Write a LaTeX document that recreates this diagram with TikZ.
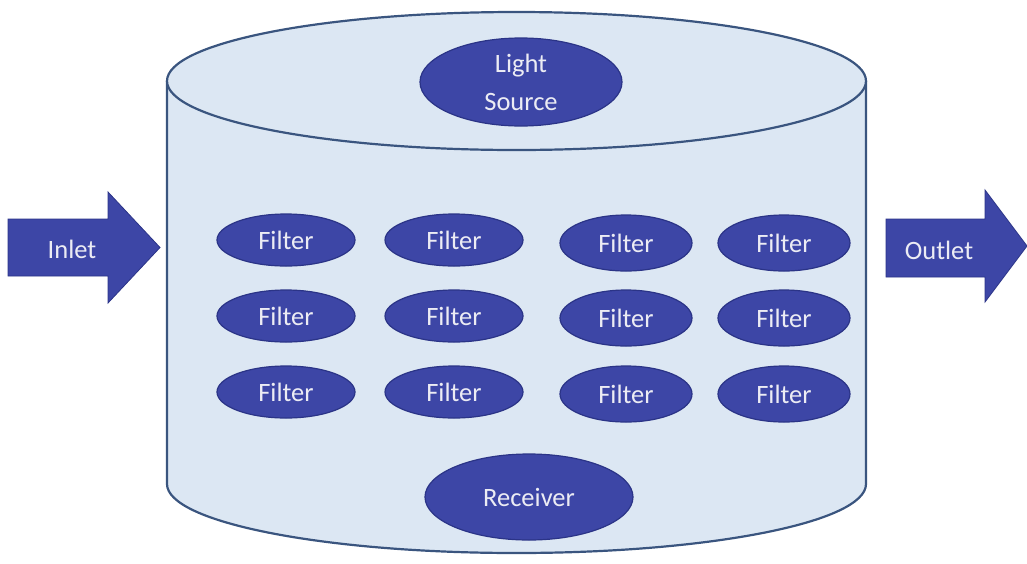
\documentclass[tikz,border=0pt]{standalone}
\usepackage{fontspec}
\setmainfont{Carlito}
\usetikzlibrary{shapes.geometric}
\definecolor{blobfill}{HTML}{3D46A6}
\definecolor{blobline}{HTML}{2B3487}
\definecolor{blobtext}{HTML}{ECECF4}
\definecolor{cylfill}{HTML}{DCE7F3}
\definecolor{cylline}{HTML}{3A557F}
\tikzset{
  blob/.style={ellipse, fill=blobfill, draw=blobline, line width=1.2pt, inner sep=0pt,
    text=blobtext, font=\fontsize{26.5}{38}\selectfont, align=center},
  filterblob/.style={blob, minimum width=138pt, minimum height=52pt},
  flowarrow/.style={fill=blobfill, draw=blobline, line width=0.8pt},
  flowtext/.style={text=blobtext, font=\fontsize{26.5}{32}\selectfont, inner sep=0pt},
  cylbody/.style={fill=cylfill, draw=cylline, line width=2.2pt}
}
\begin{document}
\begin{tikzpicture}[x=1pt,y=-1pt]
\useasboundingbox (0,0) rectangle (1027,563);
% cylinder
\fill[cylfill] (167,81) rectangle (866,484);
\fill[cylfill] (516.5,484) ellipse[x radius=349.5, y radius=69];
\draw[cylline, line width=2.2pt] (167,81) -- (167,484)
  arc[start angle=180, end angle=0, x radius=349.5, y radius=69] -- (866,81);
\draw[cylbody] (516.5,81) ellipse[x radius=349.5, y radius=69];
% inlet arrow
\draw[flowarrow] (8,219) -- (108,219) -- (108,192) -- (160,247.5) -- (108,303) -- (108,276) -- (8,276) -- cycle;
\node[flowtext] (inlet) at (72,249) {Inlet};
% outlet arrow
\draw[flowarrow] (886,219) -- (985,219) -- (985,190) -- (1027,246) -- (985,302) -- (985,277) -- (886,277) -- cycle;
\node[flowtext] (outlet) at (939,250) {Outlet};
% light source and receiver
\node[blob, minimum width=202pt, minimum height=88pt] (light) at (521,82) {Light\\Source};
\node[blob, minimum width=208pt, minimum height=86pt] (receiver) at (529,497) {Receiver};
% filters
\node[filterblob] (f11) at (286,240) {Filter};
\node[filterblob] (f12) at (454,240) {Filter};
\node[filterblob, minimum width=132pt, minimum height=56pt] (f13) at (626,243) {Filter};
\node[filterblob, minimum width=132pt, minimum height=56pt] (f14) at (784,243) {Filter};
\node[filterblob] (f21) at (286,316) {Filter};
\node[filterblob] (f22) at (454,316) {Filter};
\node[filterblob, minimum width=132pt, minimum height=56pt] (f23) at (626,318) {Filter};
\node[filterblob, minimum width=132pt, minimum height=56pt] (f24) at (784,318) {Filter};
\node[filterblob] (f31) at (286,392) {Filter};
\node[filterblob] (f32) at (454,392) {Filter};
\node[filterblob, minimum width=132pt, minimum height=56pt] (f33) at (626,394) {Filter};
\node[filterblob, minimum width=132pt, minimum height=56pt] (f34) at (784,394) {Filter};
\end{tikzpicture}
\end{document}
